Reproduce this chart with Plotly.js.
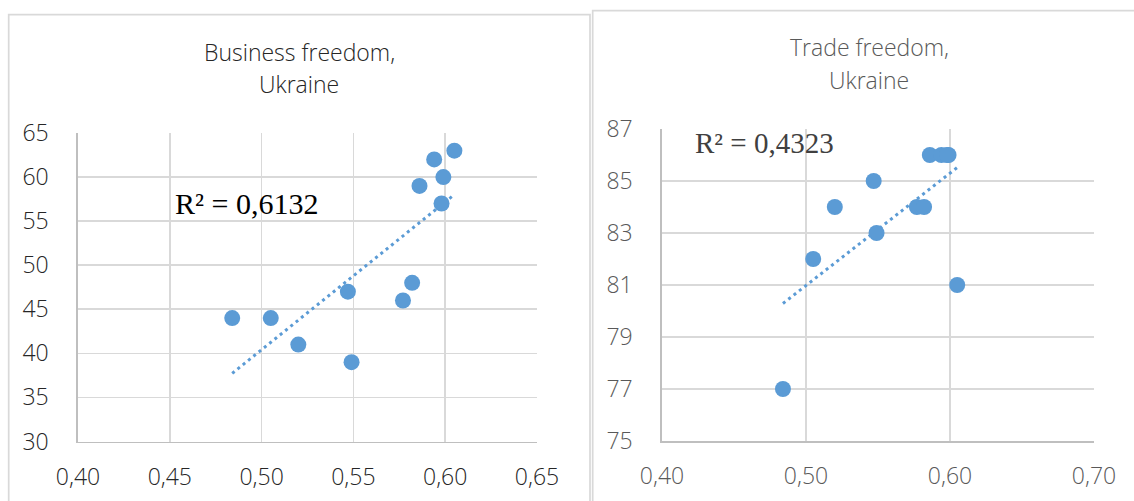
<!DOCTYPE html>
<html>
<head>
<meta charset="utf-8">
<script src="https://cdn.plot.ly/plotly-3.0.1.min.js"></script>
<style>
  html, body { margin: 0; padding: 0; background: #fff; }
  #chart { width: 1134px; height: 501px; }
</style>
</head>
<body>
<div id="chart"></div>
<script>
// ---- Data ----
const xValues = [0.484, 0.505, 0.520, 0.547, 0.549, 0.577, 0.582, 0.586, 0.594, 0.599, 0.598, 0.605];
const businessFreedom = [44, 44, 41, 47, 39, 46, 48, 59, 62, 60, 57, 63];
const tradeFreedom = [77, 82, 84, 85, 83, 84, 84, 86, 86, 86, 86, 81];
const leftTitle = ["Business freedom,", "Ukraine"];
const rightTitle = ["Trade freedom,", "Ukraine"];
const leftR2 = "R² = 0,6132";
const rightR2 = "R² = 0,4323";

// ---- Helpers ----
function linFit(xs, ys) {
  const n = xs.length;
  const mx = xs.reduce((a, b) => a + b, 0) / n;
  const my = ys.reduce((a, b) => a + b, 0) / n;
  let sxy = 0, sxx = 0;
  for (let i = 0; i < n; i++) { sxy += (xs[i] - mx) * (ys[i] - my); sxx += (xs[i] - mx) ** 2; }
  const b = sxy / sxx, a = my - b * mx;
  const xmin = Math.min(...xs), xmax = Math.max(...xs);
  return { x: [xmin, xmax], y: [a + b * xmin, a + b * xmax] };
}

const W = 1134, H = 501;
const px = v => v / W;
const py = v => 1 - v / H;

const BLUE = '#5B9BD5';
const DARK = '#262626';
const GREY = '#595959';
const FONT = 'Open Sans, Noto Sans, sans-serif';
const WEIGHT = 300;
const FS = 23;

const fitL = linFit(xValues, businessFreedom);
const fitR = linFit(xValues, tradeFreedom);

const trendLine = { color: BLUE, width: 3, dash: '3px,3.8px' };

const traces = [
  { x: fitL.x, y: fitL.y, xaxis: 'x', yaxis: 'y', mode: 'lines', line: trendLine, hoverinfo: 'skip' },
  { x: xValues, y: businessFreedom, xaxis: 'x', yaxis: 'y', mode: 'markers',
    marker: { color: BLUE, size: 16, line: { width: 0 } } },
  { x: fitR.x, y: fitR.y, xaxis: 'x2', yaxis: 'y2', mode: 'lines', line: trendLine, hoverinfo: 'skip' },
  { x: xValues, y: tradeFreedom, xaxis: 'x2', yaxis: 'y2', mode: 'markers',
    marker: { color: BLUE, size: 16, line: { width: 0 } } }
];

function axisBase(color) {
  return {
    showgrid: true, gridcolor: '#D9D9D9', gridwidth: 1.7,
    showline: true, linecolor: '#BFBFBF', linewidth: 1.7,
    zeroline: false, ticks: '', fixedrange: true,
    tickfont: { family: FONT, size: FS, color: color, weight: WEIGHT }
  };
}

function textFont(color) {
  return { family: FONT, size: FS, color: color, weight: WEIGHT };
}

const layout = {
  width: W, height: H,
  margin: { l: 0, r: 0, t: 0, b: 0 },
  paper_bgcolor: '#fff', plot_bgcolor: 'rgba(0,0,0,0)',
  showlegend: false,
  separators: ', ',
  xaxis: Object.assign(axisBase(DARK), {
    domain: [px(78), px(537)], anchor: 'y', range: [0.40, 0.65],
    tick0: 0.40, dtick: 0.05, tickformat: '.2f', ticklabelstandoff: 14
  }),
  yaxis: Object.assign(axisBase(DARK), {
    domain: [py(441.5), py(133)], anchor: 'x', range: [30, 65],
    tick0: 30, dtick: 5, ticklabelstandoff: 23
  }),
  xaxis2: Object.assign(axisBase(GREY), {
    domain: [px(662), px(1094)], anchor: 'y2', range: [0.40, 0.70],
    tick0: 0.40, dtick: 0.1, tickformat: '.2f', ticklabelstandoff: 14
  }),
  yaxis2: Object.assign(axisBase(GREY), {
    domain: [py(441), py(129)], anchor: 'x2', range: [75, 87],
    tick0: 75, dtick: 2, ticklabelstandoff: 23
  }),
  shapes: [
    { type: 'rect', xref: 'paper', yref: 'paper', layer: 'below',
      x0: px(8.7), x1: px(590), y0: -0.2, y1: py(14.7),
      line: { color: '#D9D9D9', width: 1.7 }, fillcolor: 'rgba(0,0,0,0)' },
    { type: 'rect', xref: 'paper', yref: 'paper', layer: 'below',
      x0: px(592.7), x1: 1.2, y0: -0.2, y1: py(10.7),
      line: { color: '#D9D9D9', width: 1.7 }, fillcolor: 'rgba(0,0,0,0)' }
  ],
  annotations: [
    { xref: 'paper', yref: 'paper', x: px(299), y: py(52), text: leftTitle[0], showarrow: false,
      xanchor: 'center', yanchor: 'middle', font: textFont(DARK) },
    { xref: 'paper', yref: 'paper', x: px(299), y: py(84), text: leftTitle[1], showarrow: false,
      xanchor: 'center', yanchor: 'middle', font: textFont(DARK) },
    { xref: 'paper', yref: 'paper', x: px(869), y: py(47), text: rightTitle[0], showarrow: false,
      xanchor: 'center', yanchor: 'middle', font: textFont(GREY) },
    { xref: 'paper', yref: 'paper', x: px(869), y: py(80), text: rightTitle[1], showarrow: false,
      xanchor: 'center', yanchor: 'middle', font: textFont(GREY) },
    { xref: 'paper', yref: 'paper', x: px(173), y: py(203), text: leftR2, showarrow: false,
      xanchor: 'left', yanchor: 'middle', font: { family: 'Liberation Serif, Times New Roman, serif', size: 30, color: '#000' } },
    { xref: 'paper', yref: 'paper', x: px(693), y: py(143), text: rightR2, showarrow: false,
      xanchor: 'left', yanchor: 'middle', font: { family: 'Liberation Serif, Times New Roman, serif', size: 29, color: '#404040' } }
  ]
};

Plotly.newPlot('chart', traces, layout, { displayModeBar: false, staticPlot: true });
</script>
</body>
</html>
